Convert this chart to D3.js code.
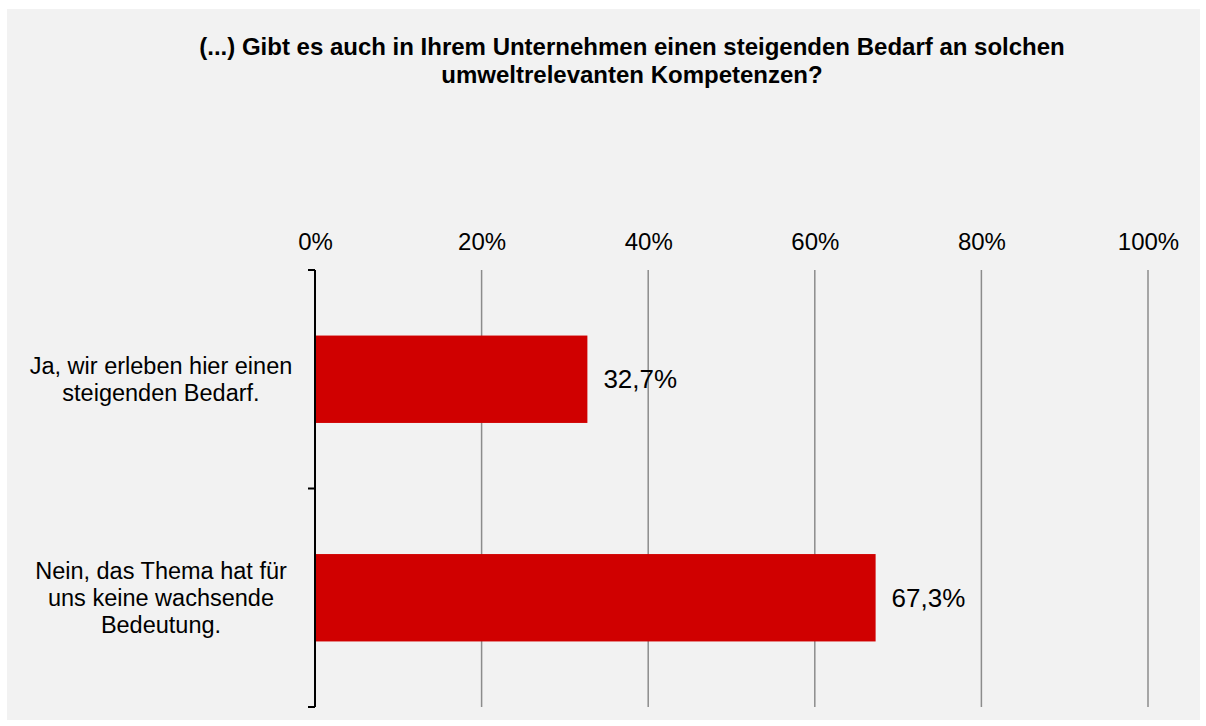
<!DOCTYPE html>
<html>
<head>
<meta charset="utf-8">
<script src="https://cdn.jsdelivr.net/npm/d3@7"></script>
<style>
  body { margin: 0; background: #fff; }
  svg { display: block; font-family: "Liberation Sans", Arial, sans-serif; }
</style>
</head>
<body>
<svg id="chart" width="1206" height="726"></svg>
<script>
const categories = [
    ['Ja, wir erleben hier einen', 'steigenden Bedarf.'],
    ['Nein, das Thema hat für', 'uns keine wachsende', 'Bedeutung.']
]
const values = [32.7, 67.3]
const ticks = [0, 20, 40, 60, 80, 100]
const title = ['(...) Gibt es auch in Ihrem Unternehmen einen steigenden Bedarf an solchen', 'umweltrelevanten Kompetenzen?']

const svg = d3.select('#chart')
const width = 1206
const height = 726

svg.append('rect')
    .attr('x', 7).attr('y', 9)
    .attr('width', 1193).attr('height', 711)
    .attr('fill', '#f2f2f2')

const margin = {top: 270, right: 58, bottom: 19, left: 315}

const xScale = d3.scaleLinear().domain([0, 100]).range([margin.left, width - margin.right])
const yScale = d3.scaleBand().domain(d3.range(values.length))
    .range([margin.top, height - margin.bottom])
    .paddingInner(0.6).paddingOuter(0.3)

// title
svg.append('text')
    .attr('x', 632).attr('y', 55)
    .attr('text-anchor', 'middle')
    .attr('font-weight', 'bold')
    .attr('font-size', 24)
    .selectAll('tspan').data(title).enter().append('tspan')
    .attr('x', 632)
    .attr('dy', (d, i) => i == 0 ? 0 : 28)
    .text(d => d)

// gridlines (skip 0, axis line sits there)
svg.append('g').selectAll('line').data(ticks.slice(1)).enter().append('line')
    .attr('x1', d => xScale(d)).attr('x2', d => xScale(d))
    .attr('y1', margin.top).attr('y2', height - margin.bottom)
    .attr('stroke', '#8c8c8c')
    .attr('stroke-width', 1.5)

// top tick labels
const xAxis = d3.axisTop(xScale).tickValues(ticks).tickSize(0).tickFormat(d => d + '%')
svg.append('g')
    .attr('transform', `translate(0, ${margin.top - 17})`)
    .call(xAxis)
    .call(g => g.select('.domain').remove())
    .selectAll('text')
    .attr('font-size', 24)
    .attr('font-family', '"Liberation Sans", Arial, sans-serif')
    .attr('fill', '#000')

// bars
svg.append('g').selectAll('rect').data(values).enter().append('rect')
    .attr('x', xScale(0))
    .attr('y', (d, i) => yScale(i))
    .attr('width', d => xScale(d) - xScale(0))
    .attr('height', yScale.bandwidth())
    .attr('fill', '#d00000')

// value labels
svg.append('g').selectAll('text').data(values).enter().append('text')
    .attr('x', d => xScale(d) + 16)
    .attr('y', (d, i) => yScale(i) + yScale.bandwidth() / 2)
    .attr('dy', '0.35em')
    .attr('font-size', 26)
    .text(d => d.toLocaleString('de-DE', {minimumFractionDigits: 1, maximumFractionDigits: 1}) + '%')

// y axis line with ticks between categories
const yTicks = [margin.top, (margin.top + height - margin.bottom) / 2, height - margin.bottom]
svg.append('line')
    .attr('x1', xScale(0)).attr('x2', xScale(0))
    .attr('y1', margin.top).attr('y2', height - margin.bottom)
    .attr('stroke', '#000').attr('stroke-width', 2)
svg.append('g').selectAll('line').data(yTicks).enter().append('line')
    .attr('x1', xScale(0) - 7).attr('x2', xScale(0))
    .attr('y1', d => d).attr('y2', d => d)
    .attr('stroke', '#000').attr('stroke-width', 2)

// category labels
svg.append('g').selectAll('text').data(categories).enter().append('text')
    .attr('text-anchor', 'middle')
    .attr('font-size', 23.5)
    .each(function(lines, i) {
        const cy = yScale(i) + yScale.bandwidth() / 2
        const lh = 27
        d3.select(this).selectAll('tspan').data(lines).enter().append('tspan')
            .attr('x', 161)
            .attr('y', (d, j) => cy + (j - (lines.length - 1) / 2) * lh)
            .attr('dy', '0.35em')
            .text(d => d)
    })
</script>
</body>
</html>
